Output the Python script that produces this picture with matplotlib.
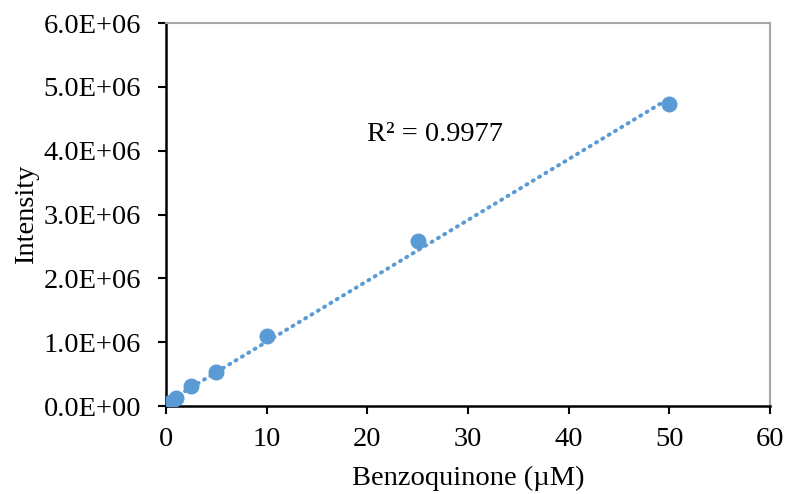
import numpy as np
import matplotlib.pyplot as plt

plt.rcParams['font.family'] = ['Liberation Serif', 'DejaVu Serif']

conc = [0.1, 0.25, 0.5, 1, 2.5, 5, 10, 25, 50]
intensity = [0.01e6, 0.025e6, 0.06e6, 0.12e6, 0.31e6, 0.54e6, 1.10e6, 2.58e6, 4.73e6]
xticks = [0, 10, 20, 30, 40, 50, 60]
yticks = [0, 1e6, 2e6, 3e6, 4e6, 5e6, 6e6]

blue = '#5B9BD5'

fig = plt.figure(figsize=(7.86, 4.94), dpi=100)
ax = fig.add_axes([0.2112, 0.1781, 0.7684, 0.7753])

# linear trendline
m, b = np.polyfit(conc, intensity, 1)
xs = np.array([0, max(conc)])
ax.plot(xs, m * xs + b, color=blue, lw=2.8, linestyle=(0, (0.3, 1.6)),
        dash_capstyle='round', zorder=2)
ax.plot(conc, intensity, 'o', color=blue, ms=10.5, mec=blue, zorder=3)

ax.text(20, 4.25e6, 'R² = 0.9977', fontsize=20.5, va='center', ha='left')

ax.set_xlim(0, 60)
ax.set_ylim(0, 6e6)
ax.set_xticks(xticks)
ax.set_yticks(yticks)
ax.set_yticklabels(['%.1fE+0%d' % (v / 10**6, 6) if v else '0.0E+00' for v in yticks])
ax.tick_params(axis='both', labelsize=20.5, direction='out', length=6, width=1.5, color='black')
ax.tick_params(axis='x', pad=9)
ax.tick_params(axis='y', pad=12)

for s in ['left', 'bottom']:
    ax.spines[s].set_color('black')
    ax.spines[s].set_linewidth(1.8)
for s in ['top', 'right']:
    ax.spines[s].set_color('#A6A6A6')
    ax.spines[s].set_linewidth(1.5)

ax.set_xlabel('Benzoquinone (µM)', fontsize=20.5, labelpad=10)
ax.set_ylabel('Intensity', fontsize=20.5, labelpad=3)

fig.savefig('out.png', dpi=100)
